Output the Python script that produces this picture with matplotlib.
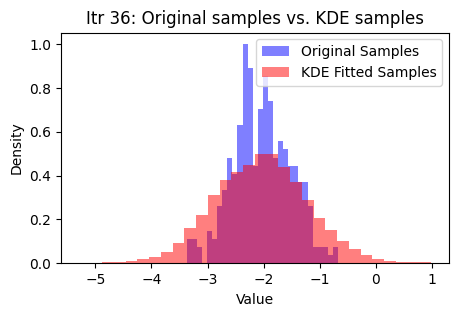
import matplotlib
matplotlib.use("Agg")
import matplotlib.pyplot as plt
import numpy as np

# bin ranges (30 bins each)
orig_range = (-3.362, -0.672)
kde_range = (-5.30, 0.99)

# densities per bin
orig_density = [0.112, 0.112, 0.074, 0.0, 0.149, 0.112, 0.260, 0.335, 0.483, 0.409,
                0.632, 1.004, 0.892, 0.446, 0.706, 0.855, 0.743, 0.483, 0.558, 0.520,
                0.446, 0.446, 0.372, 0.372, 0.260, 0.074, 0.074, 0.074, 0.037, 0.074]
kde_density = [0.001, 0.0, 0.006, 0.006, 0.010, 0.019, 0.029, 0.053, 0.094, 0.160,
               0.220, 0.312, 0.379, 0.415, 0.451, 0.497, 0.497, 0.439, 0.371, 0.288,
               0.206, 0.151, 0.103, 0.066, 0.038, 0.021, 0.012, 0.006, 0.006, 0.006]

orig_edges = np.linspace(orig_range[0], orig_range[1], len(orig_density) + 1)
kde_edges = np.linspace(kde_range[0], kde_range[1], len(kde_density) + 1)

fig, ax = plt.subplots(figsize=(4.58, 3.16), dpi=100)
fig.subplots_adjust(left=0.133, right=0.980, top=0.897, bottom=0.167)

# histogramme, original forst og KDE over
ax.hist(orig_edges[:-1], bins=orig_edges, weights=orig_density,
        color="blue", alpha=0.5, label="Original Samples")
ax.hist(kde_edges[:-1], bins=kde_edges, weights=kde_density,
        color="red", alpha=0.5, label="KDE Fitted Samples")

ax.set_title("Itr 36: Original samples vs. KDE samples")
ax.set_xlabel("Value")
ax.set_ylabel("Density")
ax.legend(loc="upper right")

fig.savefig("out.png", dpi=100)
